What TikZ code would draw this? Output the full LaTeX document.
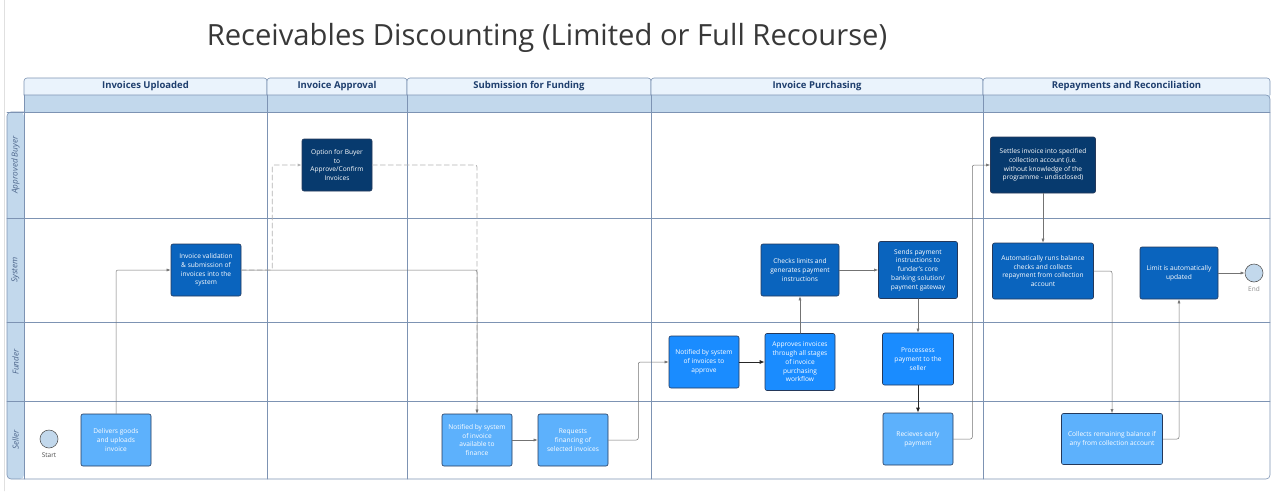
\documentclass[tikz,border=0pt]{standalone}
\usepackage{fontspec}
\setmainfont{Open Sans}
\usetikzlibrary{arrows.meta}
\definecolor{navy}{HTML}{073A6E}
\definecolor{dblue}{HTML}{0A64BE}
\definecolor{mblue}{HTML}{1A8CFF}
\definecolor{lblue}{HTML}{5DB1FC}
\definecolor{band}{HTML}{C2D8EC}
\definecolor{hdrfill}{HTML}{EAF3FC}
\definecolor{laneline}{HTML}{7D93B3}
\definecolor{hdrtext}{HTML}{1F3F6E}
\definecolor{boxline}{HTML}{24385A}
\tikzset{
	box/.style={draw=boxline, line width=.6pt, rounded corners=2pt, text=white, align=center,
		font=\fontsize{6.6}{8.8}\selectfont, minimum width=70pt, minimum height=52pt, inner sep=1pt},
	flow/.style={draw=black!55, line width=.5pt, rounded corners=2pt, -{Latex[length=4pt,width=3pt]}},
	strong/.style={draw=black!85, line width=.9pt, -{Latex[length=5pt,width=4pt]}},
	dflow/.style={draw=black!30, line width=.8pt, dash pattern=on 5pt off 3pt, rounded corners=2pt, -{Latex[length=4pt,width=3pt]}},
	event/.style={circle, draw=black!65, fill=band, line width=.6pt, minimum size=18pt, inner sep=0pt},
	lane/.style={draw=laneline, line width=.6pt}
}
\begin{document}
\begin{tikzpicture}[x=1pt, y=-1pt, line join=round, line cap=round]
	\useasboundingbox (0,0) rectangle (1280,491);
	\draw[black!12] (4,0)--(4,491);
	\node[text=black!78, font=\fontsize{29.2}{33}\selectfont] (title) at (547,38) {Receivables Discounting (Limited or Full Recourse)};
	% pool frame
	\fill[band] (24,95) rectangle (1270,112);
	\fill[band, rounded corners=4pt] (24,112) -- (7,112) -- (7,479) -- (24,479) -- cycle;
	\foreach \xa/\xb in {24/267, 267/407, 407/651, 651/983, 983/1270}
		\draw[lane, fill=hdrfill, rounded corners=3pt] (\xa,95) |- (\xb,78) -- (\xb,95);
	\foreach \xa/\xb/\t in {24/267/Invoices Uploaded, 267/407/Invoice Approval, 407/651/Submission for Funding, 651/983/Invoice Purchasing, 983/1270/Repayments and Reconciliation}
		\node[text=hdrtext, font=\fontsize{9.5}{11}\selectfont\bfseries] at ({(\xa+\xb)/2},86.5) {\t};
	\draw[lane, rounded corners=4pt] (24,95) -- (1270,95) -- (1270,479) -- (7,479) -- (7,112) -- (24,112);
	\foreach \y in {112,218,322,401} \draw[lane] (7,\y) -- (1270,\y);
	\foreach \x in {24,267,407,651,983} \draw[lane] (\x,95) -- (\x,479);
	\foreach \y/\t in {165/Approved Buyer, 270/System, 362/Funder, 440/Seller}
		\node[rotate=90, text=hdrtext!80, font=\fontsize{8.2}{9}\selectfont\itshape] at (15.5,\y) {\t};
	% events
	\node[event] (start) at (49,439) {};
	\node[below=1pt, font=\fontsize{6.5}{7}\selectfont, text=black!70] at (start.south) {Start};
	\node[event] (end) at (1254,273) {};
	\node[below=1pt, font=\fontsize{6.5}{7}\selectfont, text=black!45] at (end.south) {End};
	% tasks
	\node[box, fill=lblue] (deliver) at (116,440) {Delivers goods\\and uploads\\invoice};
	\node[box, fill=dblue] (valid) at (206,270) {Invoice validation\\\& submission of\\invoices into the\\system};
	\node[box, fill=navy] (option) at (337,165) {Option for Buyer\\to\\Approve/Confirm\\Invoices};
	\node[box, fill=lblue] (notify) at (477,440) {Notified by system\\of invoice\\available to\\finance};
	\node[box, fill=lblue] (request) at (573,440) {Requests\\financing of\\selected invoices};
	\node[box, fill=mblue] (tellfunder) at (704,362) {Notified by system\\of invoices to\\approve};
	\node[box, fill=mblue, minimum height=57pt] (approve) at (800,362) {Approves invoices\\through all stages\\of invoice\\purchasing\\workflow};
	\node[box, fill=dblue, minimum width=78pt] (checks) at (800,270) {Checks limits and\\generates payment\\instructions};
	\node[box, fill=dblue, minimum width=79pt, minimum height=57pt] (sends) at (918,270) {Sends payment\\instructions to\\funder's core\\banking solution/\\payment gateway};
	\node[box, fill=mblue, minimum width=71pt] (process) at (918,359) {Processess\\payment to the\\seller};
	\node[box, fill=lblue] (receive) at (918,439) {Recieves early\\payment};
	\node[box, fill=navy, minimum width=105pt, minimum height=56pt] (settle) at (1043,165) {Settles invoice into specified\\collection account (i.e.\\without knowledge of the\\programme - undisclosed)};
	\node[box, fill=dblue, minimum width=101pt, minimum height=56pt] (autorun) at (1043,271) {Automatically runs balance\\checks and collects\\repayment from collection\\account};
	\node[box, fill=dblue, minimum width=78pt] (limit) at (1179,273) {Limit is automatically\\updated};
	\node[box, fill=lblue, minimum width=101pt, minimum height=51pt] (collect) at (1112,439) {Collects remaining balance if\\any from collection account};
	% connectors
	\draw[dflow] (valid.east) -- ++(31,0) |- (option.west);
	\draw[dflow] (option.east) -| (notify.north);
	\draw[flow] (deliver.north) |- (valid.west);
	\draw[flow] (valid.east) -| (notify.north);
	\draw[flow] (notify) -- (request);
	\draw[flow] (request.east) -- ++(30,0) |- (tellfunder.west);
	\draw[strong] (tellfunder) -- (approve);
	\draw[flow] (approve) -- (checks);
	\draw[flow] (checks) -- (sends);
	\draw[flow] (sends) -- (process);
	\draw[strong] (process) -- (receive);
	\draw[flow] (receive.east) -- ++(19,0) |- (settle.west);
	\draw[flow] (settle) -- (autorun);
	\draw[flow] (autorun.east) -| (collect.north);
	\draw[flow] (collect.east) -| (limit.south);
	\draw[flow] (limit) -- (end);
\end{tikzpicture}
\end{document}
